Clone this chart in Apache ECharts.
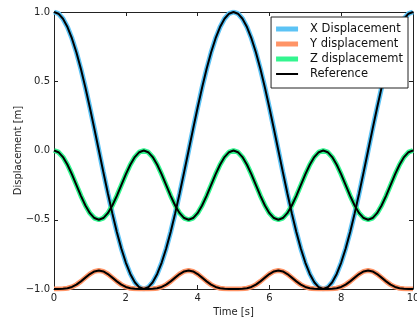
<!DOCTYPE html>
<html>
<head>
<meta charset="utf-8">
<script src="https://cdn.jsdelivr.net/npm/echarts@6/dist/echarts.min.js"></script>
<style>html,body{margin:0;padding:0;background:#fff;}#c{width:417px;height:322px;}</style>
</head>
<body>
<div id="c"></div>
<script>
var times = [0,0.125,0.25,0.375,0.5,0.625,0.75,0.875,1,1.125,1.25,1.375,1.5,1.625,1.75,1.875,2,2.125,2.25,2.375,2.5,2.625,2.75,2.875,3,3.125,3.25,3.375,3.5,3.625,3.75,3.875,4,4.125,4.25,4.375,4.5,4.625,4.75,4.875,5,5.125,5.25,5.375,5.5,5.625,5.75,5.875,6,6.125,6.25,6.375,6.5,6.625,6.75,6.875,7,7.125,7.25,7.375,7.5,7.625,7.75,7.875,8,8.125,8.25,8.375,8.5,8.625,8.75,8.875,9,9.125,9.25,9.375,9.5,9.625,9.75,9.875,10];
var xDisp = [1,0.9877,0.9511,0.8910,0.8090,0.7071,0.5878,0.4540,0.3090,0.1564,0,-0.1564,-0.3090,-0.4540,-0.5878,-0.7071,-0.8090,-0.8910,-0.9511,-0.9877,-1,-0.9877,-0.9511,-0.8910,-0.8090,-0.7071,-0.5878,-0.4540,-0.3090,-0.1564,0,0.1564,0.3090,0.4540,0.5878,0.7071,0.8090,0.8910,0.9511,0.9877,1,0.9877,0.9511,0.8910,0.8090,0.7071,0.5878,0.4540,0.3090,0.1564,0,-0.1564,-0.3090,-0.4540,-0.5878,-0.7071,-0.8090,-0.8910,-0.9511,-0.9877,-1,-0.9877,-0.9511,-0.8910,-0.8090,-0.7071,-0.5878,-0.4540,-0.3090,-0.1564,0,0.1564,0.3090,0.4540,0.5878,0.7071,0.8090,0.8910,0.9511,0.9877,1];
var yDisp = [-1,-0.9999,-0.9989,-0.9947,-0.9850,-0.9682,-0.9449,-0.9178,-0.8919,-0.8730,-0.8660,-0.8730,-0.8919,-0.9178,-0.9449,-0.9682,-0.9850,-0.9947,-0.9989,-0.9999,-1,-0.9999,-0.9989,-0.9947,-0.9850,-0.9682,-0.9449,-0.9178,-0.8919,-0.8730,-0.8660,-0.8730,-0.8919,-0.9178,-0.9449,-0.9682,-0.9850,-0.9947,-0.9989,-0.9999,-1,-0.9999,-0.9989,-0.9947,-0.9850,-0.9682,-0.9449,-0.9178,-0.8919,-0.8730,-0.8660,-0.8730,-0.8919,-0.9178,-0.9449,-0.9682,-0.9850,-0.9947,-0.9989,-0.9999,-1,-0.9999,-0.9989,-0.9947,-0.9850,-0.9682,-0.9449,-0.9178,-0.8919,-0.8730,-0.8660,-0.8730,-0.8919,-0.9178,-0.9449,-0.9682,-0.9850,-0.9947,-0.9989,-0.9999,-1];
var zDisp = [0,-0.0122,-0.0477,-0.1030,-0.1727,-0.25,-0.3273,-0.3970,-0.4523,-0.4878,-0.5,-0.4878,-0.4523,-0.3970,-0.3273,-0.25,-0.1727,-0.1030,-0.0477,-0.0122,0,-0.0122,-0.0477,-0.1030,-0.1727,-0.25,-0.3273,-0.3970,-0.4523,-0.4878,-0.5,-0.4878,-0.4523,-0.3970,-0.3273,-0.25,-0.1727,-0.1030,-0.0477,-0.0122,0,-0.0122,-0.0477,-0.1030,-0.1727,-0.25,-0.3273,-0.3970,-0.4523,-0.4878,-0.5,-0.4878,-0.4523,-0.3970,-0.3273,-0.25,-0.1727,-0.1030,-0.0477,-0.0122,0,-0.0122,-0.0477,-0.1030,-0.1727,-0.25,-0.3273,-0.3970,-0.4523,-0.4878,-0.5,-0.4878,-0.4523,-0.3970,-0.3273,-0.25,-0.1727,-0.1030,-0.0477,-0.0122,0];
var xTicks = [0,2,4,6,8,10];
var yTicks = [-1,-0.5,0,0.5,1];
var seriesNames = ['X Displacement','Y displacement','Z displacememt','Reference'];
var seriesColors = ['#5cc3f5','#ff9466','#33f58f','#000000'];

function pairs(v){ return times.map(function(t,i){ return [t, v[i]]; }); }
var FONT = 'DejaVu Sans';
var chart = echarts.init(document.getElementById('c'), null, {renderer:'canvas'});
var axisCommon = function(pos, showLabel, isX){
  return {
    type:'value', position:pos,
    min: isX ? xTicks[0] : yTicks[0],
    max: isX ? xTicks[xTicks.length-1] : yTicks[yTicks.length-1],
    interval: isX ? 2 : 0.5,
    nameMoveOverlap:false,
    axisLine:{show:true, onZero:false, lineStyle:{color:'#222', width:1}},
    axisTick:{show:true, inside:true, length:4, lineStyle:{color:'#222'}},
    splitLine:{show:false},
    axisLabel:{show:showLabel, fontFamily:FONT, fontSize:10, color:'#222', margin:4,
      formatter: isX ? function(v){return String(v);} : function(v){ return v.toFixed(1).replace('-','\u2212'); }}
  };
};
var xa = axisCommon('bottom', true, true);
xa.name = 'Time [s]'; xa.nameLocation='middle'; xa.nameGap=18;
xa.nameTextStyle = {fontFamily:FONT, fontSize:10, color:'#222'};
var xa2 = axisCommon('top', false, true);
var ya = axisCommon('left', true, false);
ya.name = 'Displacement [m]'; ya.nameLocation='middle'; ya.nameGap=31;
ya.nameTextStyle = {fontFamily:FONT, fontSize:10, color:'#222'};
var ya2 = axisCommon('right', false, false);

function thick(name, color, v){
  return {name:name, type:'line', data:pairs(v), symbol:'none', showSymbol:false,
    lineStyle:{color:color, width:5}, itemStyle:{color:color}, z:2, animation:false};
}
function ref(v){
  return {name:'Reference', type:'line', data:pairs(v), symbol:'none', showSymbol:false,
    lineStyle:{color:'#000', width:2}, itemStyle:{color:'#000'}, z:3, animation:false};
}
var legendData = seriesNames.map(function(n, i){
  return {name:n, icon: i < 3 ? 'path://M0,0H22V5H0Z' : 'path://M0,0H22V2H0Z', itemStyle:{color:seriesColors[i]}};
});
chart.setOption({
  animation:false,
  grid:{left:54, right:4, top:12, bottom:33, containLabel:false, outerBoundsMode:'none'},
  xAxis:[xa, xa2],
  yAxis:[ya, ya2],
  legend:{
    right:9, top:17, orient:'vertical', backgroundColor:'#fff',
    borderColor:'#222', borderWidth:1, borderRadius:0, padding:[6,5,8,5],
    itemWidth:22, itemHeight:14, itemGap:3, symbolKeepAspect:true,
    textStyle:{fontFamily:FONT, fontSize:11.5, color:'#111', padding:[0,0,0,7]},
    data: legendData
  },
  series:[
    thick(seriesNames[0], seriesColors[0], xDisp),
    thick(seriesNames[1], seriesColors[1], yDisp),
    thick(seriesNames[2], seriesColors[2], zDisp),
    ref(xDisp), ref(yDisp), ref(zDisp)
  ]
});
</script>
</body>
</html>
